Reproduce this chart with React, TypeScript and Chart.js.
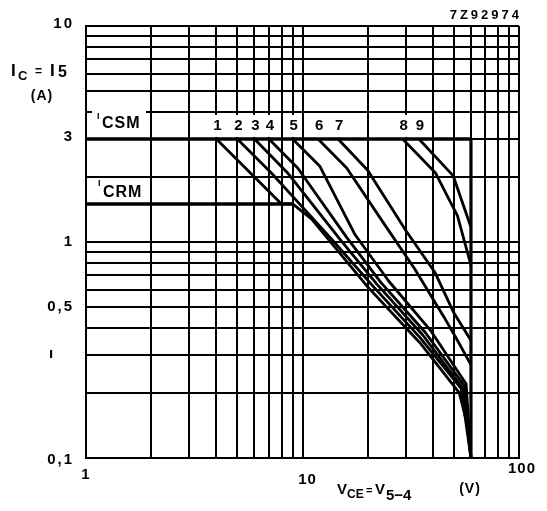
import React, { useEffect, useRef } from "react";
import { Chart, registerables } from "chart.js";

Chart.register(...registerables);

// ---- grid / ticks ----
const xGridValues = [1, 2, 3, 4, 5, 6, 7, 8, 9, 10, 20, 30, 40, 50, 60, 70, 80, 90, 100];
const yGridValues = [0.1, 0.2, 0.3, 0.4, 0.5, 0.6, 0.7, 0.8, 0.9, 1, 2, 3, 4, 5, 6, 7, 8, 9, 10];
const yTickValues = [10, 3, 1, 0.5, 0.3, 0.1];
const yTickTexts = ["10", "3", "1", "0,5", "ı", "0,1"];
const xTickValues = [1, 10, 100];
const xTickTexts = ["1", "10", "100"];

// ---- curves (V, A) ----
const curveLabels = ["1", "2", "3", "4", "5", "6", "7", "8", "9"];
const curve1V = [4, 8, 9, 11, 20, 35, 53, 58, 60];
const curve1I = [3, 1.5, 1.5, 1.28, 0.62, 0.34, 0.2, 0.14, 0.1];
const curve2V = [5, 7.2, 10, 14, 21, 35, 54, 60];
const curve2I = [3, 2.08, 1.45, 1.0, 0.63, 0.36, 0.21, 0.1];
const curve3V = [6, 8.5, 15, 22, 36, 55, 60];
const curve3I = [3, 2.1, 1.02, 0.64, 0.37, 0.21, 0.1];
const curve4V = [7, 9.5, 16, 23, 37, 56, 60];
const curve4I = [3, 2.2, 1.05, 0.65, 0.38, 0.215, 0.1];
const curve5V = [9, 12, 17.5, 25, 39, 57, 60];
const curve5I = [3, 2.25, 1.08, 0.66, 0.39, 0.22, 0.1];
const curve6V = [11.8, 16, 24, 33, 45, 52, 60];
const curve6I = [3, 2.2, 1.2, 0.75, 0.45, 0.35, 0.27];
const curve7V = [14.6, 20, 30, 41, 50, 60];
const curve7I = [3, 2.15, 1.13, 0.72, 0.47, 0.35];
const curve8V = [29, 41, 52, 60];
const curve8I = [3, 2.1, 1.32, 0.78];
const curve9V = [34.5, 49.6, 60];
const curve9I = [3, 2.03, 1.17];

// limits
const icsmV = [1, 60];
const icsmI = [3, 3];
const icrmV = [1, 9];
const icrmI = [1.5, 1.5];
const vceMaxV = [60, 60];
const vceMaxI = [3, 0.1];

const curvesV = [curve1V, curve2V, curve3V, curve4V, curve5V, curve6V, curve7V, curve8V, curve9V];
const curvesI = [curve1I, curve2I, curve3I, curve4I, curve5I, curve6I, curve7I, curve8I, curve9I];

const FONT = '"Liberation Sans", Arial, sans-serif';

function toPoints(v: number[], i: number[]) {
  return v.map((x, k) => ({ x, y: i[k] }));
}

function txt(ctx: CanvasRenderingContext2D, s: string, x: number, y: number, size: number, align: CanvasTextAlign = "left", spacing = "0px") {
  ctx.font = `bold ${size}px ${FONT}`;
  (ctx as any).letterSpacing = spacing;
  ctx.textAlign = align;
  ctx.textBaseline = "middle";
  ctx.fillStyle = "#000";
  ctx.fillText(s, x, y);
}

const annotatePlugin = {
  id: "annotate",
  beforeDatasetsDraw(chart: any) {
    const ctx: CanvasRenderingContext2D = chart.ctx;
    const xs = chart.scales.x;
    const ys = chart.scales.y;
    const y3 = ys.getPixelForValue(3);
    ctx.save();
    ctx.fillStyle = "#fff";
    ctx.fillRect(xs.left + 6, y3 - 31, 54, 29);
    const y15 = ys.getPixelForValue(1.5);
    ctx.fillRect(xs.left + 4, y15 - 25, 60, 22);
    curvesV.forEach((v) => {
      const px = xs.getPixelForValue(v[0]);
      ctx.fillRect(px - 5, y3 - 24, 12, 22);
    });
    ctx.restore();
  },
  afterDraw(chart: any) {
    const ctx: CanvasRenderingContext2D = chart.ctx;
    const xs = chart.scales.x;
    const ys = chart.scales.y;
    ctx.save();
    const yShift = [-2, -2, 0, 0, -1, 2];
    yTickValues.forEach((v, k) => {
      const py = ys.getPixelForValue(v);
      txt(ctx, yTickTexts[k], k === 4 ? xs.left - 34 : xs.left - 12, py + yShift[k], 15, k === 4 ? "center" : "right", "2px");
    });
    const xOff = [0, 5, 3];
    const yOff = [17, 22, 11];
    xTickValues.forEach((v, k) => {
      const px = xs.getPixelForValue(v);
      txt(ctx, xTickTexts[k], px + xOff[k], ys.bottom + yOff[k], 15, "center", "1px");
    });
    const y3 = ys.getPixelForValue(3);
    curvesV.forEach((v, k) => {
      const px = xs.getPixelForValue(v[0]);
      txt(ctx, curveLabels[k], px + 1, y3 - 13, 15, "center");
    });
    txt(ctx, "I", xs.left + 11, y3 - 22, 9, "left");
    txt(ctx, "CSM", xs.left + 16, y3 - 15, 16, "left", "1px");
    const y15 = ys.getPixelForValue(1.5);
    txt(ctx, "I", xs.left + 12, y15 - 20, 9, "left");
    txt(ctx, "CRM", xs.left + 17, y15 - 11, 16, "left", "1px");
    // y axis title
    txt(ctx, "I", 11, 71, 17, "left");
    txt(ctx, "C", 18, 76, 13, "left");
    txt(ctx, "=", 35, 72, 12, "left");
    txt(ctx, "I", 50, 71, 17, "left");
    txt(ctx, "5", 58, 73, 16, "left");
    txt(ctx, "(A)", 42, 96, 14, "center", "1px");
    // x axis title
    txt(ctx, "V", 337, 490, 15, "left");
    txt(ctx, "CE", 347, 495, 12, "left");
    txt(ctx, "=", 366, 491, 11, "left");
    txt(ctx, "V", 375, 490, 15, "left");
    txt(ctx, "5\u22124", 386, 496, 15, "left");
    txt(ctx, "(V)", 470, 489, 14, "center", "1px");
    txt(ctx, "7Z92974", 522, 15, 13, "right", "3px");
    ctx.restore();
  },
};

export default function App() {
  const ref = useRef<HTMLCanvasElement | null>(null);
  useEffect(() => {
    if (!ref.current) return;
    const lineDs = (v: number[], i: number[], w: number) => ({
      data: toPoints(v, i),
      borderColor: "#000",
      borderWidth: w,
      pointRadius: 0,
      showLine: true,
      fill: false,
      tension: 0,
      borderJoinStyle: "round" as const,
    });
    const datasets: any[] = curvesV.map((v, k) => lineDs(v, curvesI[k], 2.8));
    datasets.push(lineDs(icsmV, icsmI, 3.6));
    datasets.push(lineDs(icrmV, icrmI, 3.6));
    datasets.push(lineDs(vceMaxV, vceMaxI, 3.2));

    const chart = new Chart(ref.current, {
      type: "scatter",
      data: { datasets },
      options: {
        animation: false,
        responsive: false,
        devicePixelRatio: 1,
        layout: { padding: { left: 86, top: 26, right: 28, bottom: 53 } },
        plugins: { legend: { display: false }, tooltip: { enabled: false } },
        scales: {
          x: {
            type: "logarithmic",
            min: 1,
            max: 100,
            afterBuildTicks: (s: any) => {
              s.ticks = xGridValues.map((value) => ({ value }));
            },
            afterFit: (s: any) => {
              s.height = 0;
            },
            ticks: { display: false },
            grid: { color: "#000", lineWidth: 2, drawTicks: false },
            border: { display: true, color: "#000", width: 2 },
          },
          y: {
            type: "logarithmic",
            min: 0.1,
            max: 10,
            afterBuildTicks: (s: any) => {
              s.ticks = yGridValues.map((value) => ({ value }));
            },
            afterFit: (s: any) => {
              s.width = 0;
            },
            ticks: { display: false },
            grid: { color: "#000", lineWidth: 2, drawTicks: false },
            border: { display: true, color: "#000", width: 2 },
          },
        },
      },
      plugins: [annotatePlugin],
    });
    return () => chart.destroy();
  }, []);
  return (
    <div style={{ position: "fixed", left: 0, top: 0, width: 547, height: 511, background: "#fff" }}>
      <canvas ref={ref} width={547} height={511} style={{ width: 547, height: 511 }} />
    </div>
  );
}
